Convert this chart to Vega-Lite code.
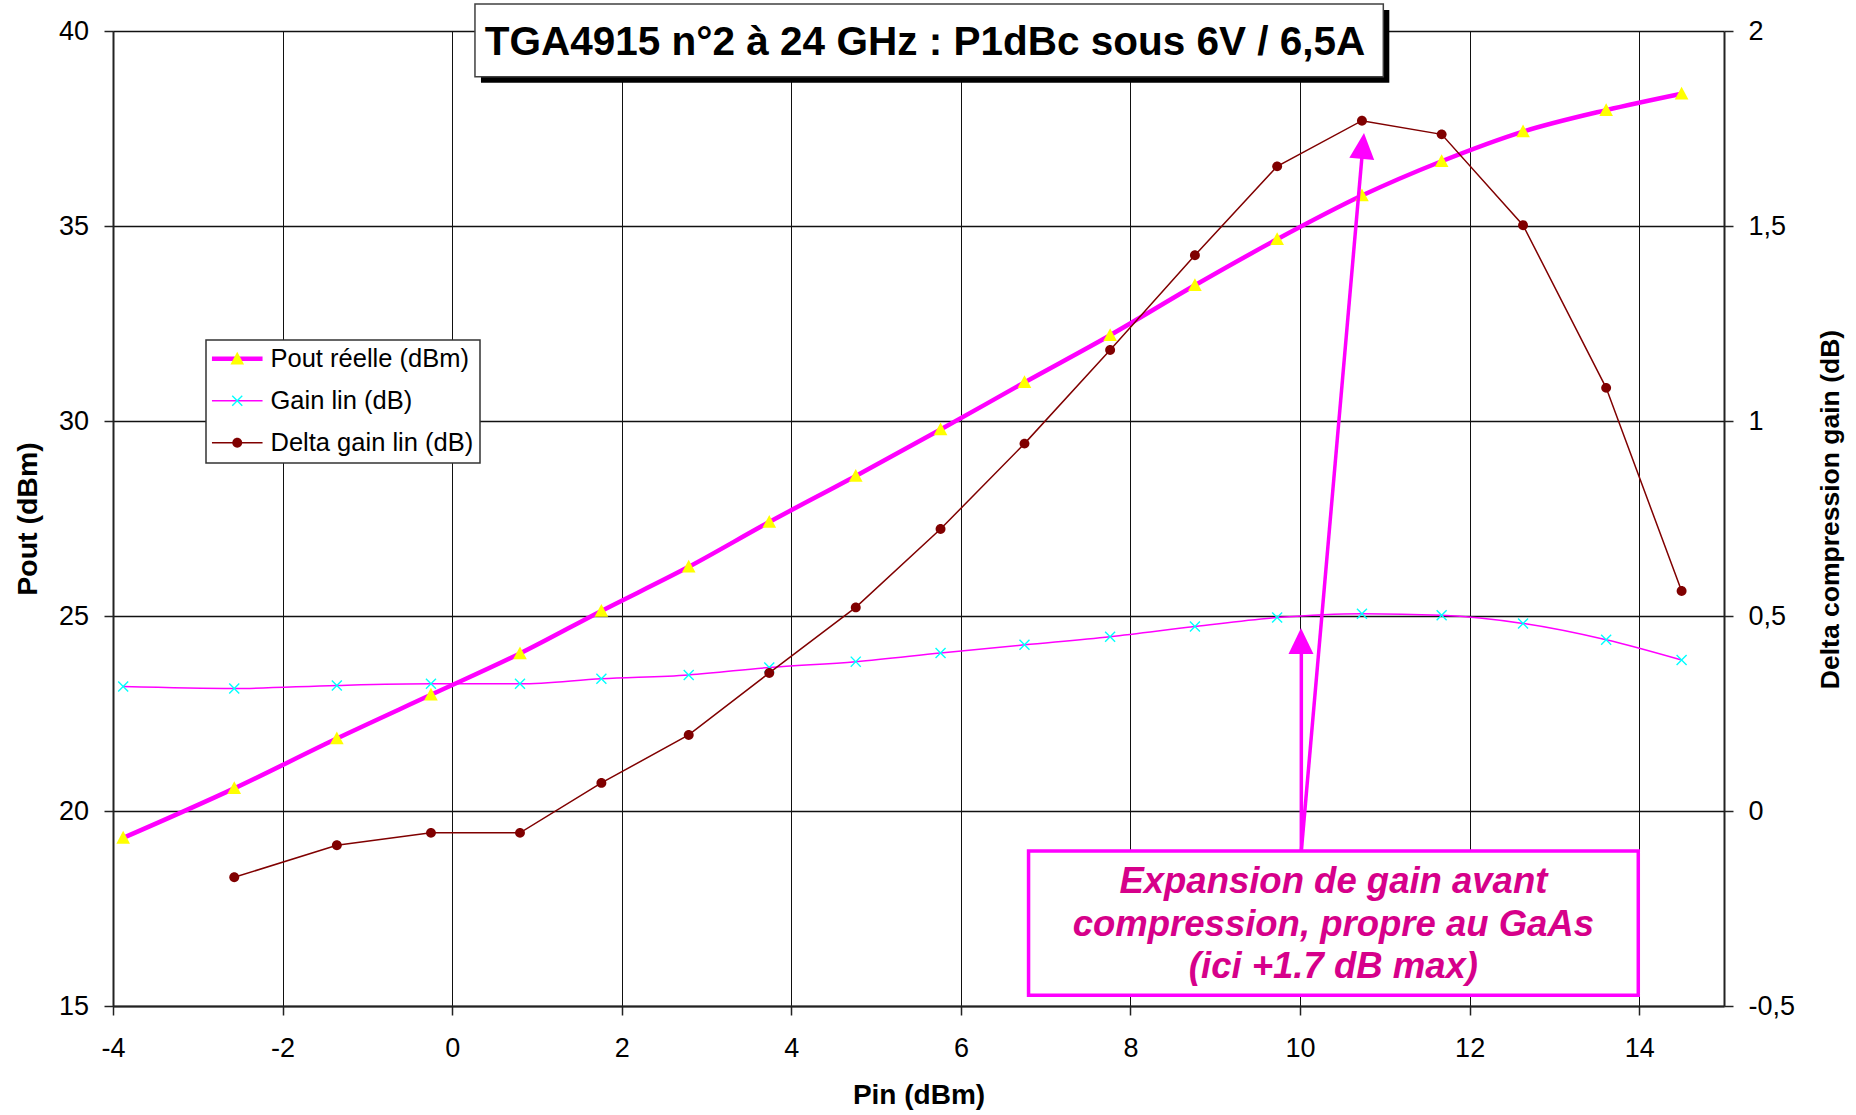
{
  "$schema": "https://vega.github.io/schema/vega-lite/v6.json",
  "width": 1611,
  "height": 975,
  "autosize": {"type": "none"},
  "padding": {"left": 113, "top": 31, "right": 132, "bottom": 109},
  "background": "#ffffff",
  "config": {
    "font": "Liberation Sans",
    "view": {"stroke": null},
    "axis": {
      "labelFontSize": 27,
      "labelColor": "#000000",
      "labelFont": "Liberation Sans",
      "tickSize": 9,
      "tickColor": "#222222",
      "tickWidth": 1.5,
      "domainColor": "#222222",
      "domainWidth": 2,
      "titleFont": "Liberation Sans",
      "titleFontSize": 28,
      "titleFontWeight": "bold",
      "titleColor": "#000000",
      "gridColor": "#111111",
      "gridWidth": 1,
      "labelFlush": false,
      "labelOverlap": false
    }
  },
  "data": {
    "values": [
      {"series": "Pout réelle (dBm)", "pin": -3.88, "val": 19.31},
      {"series": "Pout réelle (dBm)", "pin": -2.57, "val": 20.58},
      {"series": "Pout réelle (dBm)", "pin": -1.36, "val": 21.86},
      {"series": "Pout réelle (dBm)", "pin": -0.25, "val": 22.98},
      {"series": "Pout réelle (dBm)", "pin": 0.80, "val": 24.04},
      {"series": "Pout réelle (dBm)", "pin": 1.76, "val": 25.13},
      {"series": "Pout réelle (dBm)", "pin": 2.79, "val": 26.26},
      {"series": "Pout réelle (dBm)", "pin": 3.74, "val": 27.41},
      {"series": "Pout réelle (dBm)", "pin": 4.76, "val": 28.59},
      {"series": "Pout réelle (dBm)", "pin": 5.76, "val": 29.78},
      {"series": "Pout réelle (dBm)", "pin": 6.75, "val": 30.99},
      {"series": "Pout réelle (dBm)", "pin": 7.76, "val": 32.20},
      {"series": "Pout réelle (dBm)", "pin": 8.76, "val": 33.48},
      {"series": "Pout réelle (dBm)", "pin": 9.73, "val": 34.66},
      {"series": "Pout réelle (dBm)", "pin": 10.73, "val": 35.78},
      {"series": "Pout réelle (dBm)", "pin": 11.67, "val": 36.66},
      {"series": "Pout réelle (dBm)", "pin": 12.63, "val": 37.42},
      {"series": "Pout réelle (dBm)", "pin": 13.61, "val": 37.97},
      {"series": "Pout réelle (dBm)", "pin": 14.50, "val": 38.39},
      {"series": "Gain lin (dB)", "pin": -3.88, "val": 23.19},
      {"series": "Gain lin (dB)", "pin": -2.57, "val": 23.14},
      {"series": "Gain lin (dB)", "pin": -1.36, "val": 23.22},
      {"series": "Gain lin (dB)", "pin": -0.25, "val": 23.26},
      {"series": "Gain lin (dB)", "pin": 0.80, "val": 23.26},
      {"series": "Gain lin (dB)", "pin": 1.76, "val": 23.39},
      {"series": "Gain lin (dB)", "pin": 2.79, "val": 23.49},
      {"series": "Gain lin (dB)", "pin": 3.74, "val": 23.68},
      {"series": "Gain lin (dB)", "pin": 4.76, "val": 23.83},
      {"series": "Gain lin (dB)", "pin": 5.76, "val": 24.05},
      {"series": "Gain lin (dB)", "pin": 6.75, "val": 24.26},
      {"series": "Gain lin (dB)", "pin": 7.76, "val": 24.47},
      {"series": "Gain lin (dB)", "pin": 8.76, "val": 24.73},
      {"series": "Gain lin (dB)", "pin": 9.73, "val": 24.96},
      {"series": "Gain lin (dB)", "pin": 10.73, "val": 25.06},
      {"series": "Gain lin (dB)", "pin": 11.67, "val": 25.02},
      {"series": "Gain lin (dB)", "pin": 12.63, "val": 24.81},
      {"series": "Gain lin (dB)", "pin": 13.61, "val": 24.39},
      {"series": "Gain lin (dB)", "pin": 14.50, "val": 23.87},
      {"series": "Delta gain lin (dB)", "pin": -2.57, "val": -0.170},
      {"series": "Delta gain lin (dB)", "pin": -1.36, "val": -0.088},
      {"series": "Delta gain lin (dB)", "pin": -0.25, "val": -0.056},
      {"series": "Delta gain lin (dB)", "pin": 0.80, "val": -0.056},
      {"series": "Delta gain lin (dB)", "pin": 1.76, "val": 0.072},
      {"series": "Delta gain lin (dB)", "pin": 2.79, "val": 0.195},
      {"series": "Delta gain lin (dB)", "pin": 3.74, "val": 0.354},
      {"series": "Delta gain lin (dB)", "pin": 4.76, "val": 0.522},
      {"series": "Delta gain lin (dB)", "pin": 5.76, "val": 0.723},
      {"series": "Delta gain lin (dB)", "pin": 6.75, "val": 0.942},
      {"series": "Delta gain lin (dB)", "pin": 7.76, "val": 1.182},
      {"series": "Delta gain lin (dB)", "pin": 8.76, "val": 1.425},
      {"series": "Delta gain lin (dB)", "pin": 9.73, "val": 1.653},
      {"series": "Delta gain lin (dB)", "pin": 10.73, "val": 1.770},
      {"series": "Delta gain lin (dB)", "pin": 11.67, "val": 1.735},
      {"series": "Delta gain lin (dB)", "pin": 12.63, "val": 1.502},
      {"series": "Delta gain lin (dB)", "pin": 13.61, "val": 1.085},
      {"series": "Delta gain lin (dB)", "pin": 14.50, "val": 0.564}
    ]
  },
  "layer": [
    {
      "layer": [
        {
          "transform": [{"filter": {"field": "series", "equal": "Gain lin (dB)"}}],
          "mark": {"type": "line", "interpolate": "monotone", "strokeWidth": 1.5},
          "encoding": {
            "x": {
              "field": "pin", "type": "quantitative",
              "scale": {"domain": [-4, 15], "nice": false, "zero": false},
              "axis": {
                "title": "Pin (dBm)",
                "values": [-4, -2, 0, 2, 4, 6, 8, 10, 12, 14],
                "labelExpr": "toString(datum.value)",
                "grid": true,
                "labelPadding": 20,
                "titlePadding": 20
              }
            },
            "y": {
              "field": "val", "type": "quantitative",
              "scale": {"domain": [15, 40], "nice": false, "zero": false},
              "axis": {
                "title": "Pout (dBm)",
                "values": [15, 20, 25, 30, 35, 40],
                "grid": true,
                "gridWidth": 1.5,
                "labelPadding": 15.5,
                "titlePadding": 16,
                "titleFontSize": 28.5
              }
            },
            "color": {
              "field": "series", "type": "nominal",
              "scale": {"domain": ["Pout réelle (dBm)", "Gain lin (dB)", "Delta gain lin (dB)"], "range": ["#FF00FF", "#FF00FF", "#800000"]},
              "legend": {
                "title": null, "orient": "none", "legendX": 93, "legendY": 309, "direction": "vertical",
                "symbolType": "M-2.53,0L2.53,0", "symbolSize": 400, "symbolStrokeWidth": 1.5,
                "symbolOffset": 12.5, "labelOffset": 20.5, "labelFontSize": 25.5, "labelFont": "Liberation Sans",
                "labelLimit": 0,
                "labelColor": "#000000", "padding": 6, "rowPadding": 15,
                "fillColor": "#ffffff", "strokeColor": "#333333", "zindex": 1,
                "encode": {
                  "symbols": {"update": {"strokeWidth": {"signal": "datum.value === 'Pout réelle (dBm)' ? 4.5 : 1.5"}}},
                  "legend": {"update": {"strokeWidth": {"value": 1.5}}}
                }
              }
            }
          }
        },
        {
          "transform": [{"filter": {"field": "series", "equal": "Pout réelle (dBm)"}}],
          "mark": {"type": "line", "interpolate": "monotone", "strokeWidth": 4.5},
          "encoding": {
            "x": {"field": "pin", "type": "quantitative"},
            "y": {"field": "val", "type": "quantitative"},
            "color": {
              "field": "series", "type": "nominal",
              "scale": {"domain": ["Pout réelle (dBm)", "Gain lin (dB)", "Delta gain lin (dB)"], "range": ["#FF00FF", "#FF00FF", "#800000"]}
            }
          }
        },
        {
          "transform": [{"filter": {"field": "series", "oneOf": ["Pout réelle (dBm)", "Gain lin (dB)"]}}],
          "mark": {"type": "point", "filled": true, "size": 484, "opacity": 1},
          "encoding": {
            "x": {"field": "pin", "type": "quantitative"},
            "y": {"field": "val", "type": "quantitative"},
            "fill": {
              "field": "series", "type": "nominal", "sort": "descending",
              "scale": {"range": ["#FFFF00", "#00FFFF", "#800000"]},
              "legend": {
                "title": null, "orient": "none", "legendX": 93, "legendY": 309, "direction": "vertical",
                "symbolSize": 484, "symbolStrokeWidth": 0, "symbolOffset": 12.5, "labelOffset": 20.5,
                "labelFontSize": 25.5, "labelFont": "Liberation Sans", "labelOpacity": 0, "labelLimit": 0,
                "padding": 6, "rowPadding": 15, "zindex": 2
              }
            },
            "shape": {
              "field": "series", "type": "nominal", "sort": "descending",
              "scale": {"range": [
                "M0,-0.64L0.62,0.52L-0.62,0.52Z",
                "M-0.5,-0.41L-0.41,-0.5L0,-0.09L0.41,-0.5L0.5,-0.41L0.09,0L0.5,0.41L0.41,0.5L0,0.09L-0.41,0.5L-0.5,0.41L-0.09,0Z",
                "M-0.45,0A0.45,0.45,0,1,0,0.45,0A0.45,0.45,0,1,0,-0.45,0Z"
              ]},
              "legend": {
                "title": null, "orient": "none", "legendX": 93, "legendY": 309, "direction": "vertical",
                "symbolSize": 484, "symbolStrokeWidth": 0, "symbolOffset": 12.5, "labelOffset": 20.5,
                "labelFontSize": 25.5, "labelFont": "Liberation Sans", "labelOpacity": 0, "labelLimit": 0,
                "padding": 6, "rowPadding": 15, "zindex": 2
              }
            }
          }
        },
        {
          "data": {"values": [{}]},
          "mark": {"type": "rect", "fill": "#000000", "xOffset": 6, "x2Offset": 6, "yOffset": 6, "y2Offset": 6},
          "encoding": {
            "x": {"datum": 0.269, "type": "quantitative"},
            "x2": {"datum": 10.982},
            "y": {"datum": 40.692, "type": "quantitative"},
            "y2": {"datum": 38.828}
          }
        },
        {
          "data": {"values": [{}]},
          "mark": {"type": "rect", "fill": "#ffffff", "stroke": "#404040", "strokeWidth": 1.5},
          "encoding": {
            "x": {"datum": 0.269, "type": "quantitative"},
            "x2": {"datum": 10.982},
            "y": {"datum": 40.692, "type": "quantitative"},
            "y2": {"datum": 38.828}
          }
        },
        {
          "data": {"values": [{}]},
          "mark": {"type": "text", "text": "TGA4915 n°2 à 24 GHz : P1dBc sous 6V / 6,5A", "font": "Liberation Sans", "fontSize": 40.5, "fontWeight": "bold", "align": "center", "baseline": "alphabetic", "color": "#000000"},
          "encoding": {
            "x": {"datum": 5.577, "type": "quantitative"},
            "y": {"datum": 39.385, "type": "quantitative"}
          }
        },
        {
          "data": {"values": [{}]},
          "mark": {"type": "rect", "fill": "#ffffff", "stroke": "#FF00FF", "strokeWidth": 3.5},
          "encoding": {
            "x": {"datum": 6.798, "type": "quantitative"},
            "x2": {"datum": 13.989},
            "y": {"datum": 18.974, "type": "quantitative"},
            "y2": {"datum": 15.274}
          }
        },
        {
          "data": {"values": [{}]},
          "mark": {"type": "text", "text": ["Expansion de gain avant", "compression, propre au GaAs", "(ici +1.7 dB max)"], "font": "Liberation Sans", "fontSize": 36.5, "fontWeight": "bold", "fontStyle": "italic", "align": "center", "baseline": "alphabetic", "lineHeight": 42.5, "color": "#D6008A"},
          "encoding": {
            "x": {"datum": 10.393, "type": "quantitative"},
            "y": {"datum": 17.89, "type": "quantitative"}
          }
        },
        {
          "data": {"values": [{}]},
          "mark": {"type": "rule", "stroke": "#FF00FF", "strokeWidth": 3.5},
          "encoding": {
            "x": {"datum": 10.015, "type": "quantitative"},
            "x2": {"datum": 10.015},
            "y": {"datum": 18.974, "type": "quantitative"},
            "y2": {"datum": 24.36}
          }
        },
        {
          "data": {"values": [{}]},
          "mark": {"type": "rule", "stroke": "#FF00FF", "strokeWidth": 3.5},
          "encoding": {
            "x": {"datum": 10.015, "type": "quantitative"},
            "x2": {"datum": 10.741},
            "y": {"datum": 18.974, "type": "quantitative"},
            "y2": {"datum": 37.05}
          }
        },
        {
          "data": {"values": [{}]},
          "mark": {"type": "point", "shape": "M0,-1L0.96,1L-0.96,1Z", "size": 676, "filled": true, "fill": "#FF00FF", "opacity": 1, "strokeWidth": 0},
          "encoding": {
            "x": {"datum": 10.011, "type": "quantitative"},
            "y": {"datum": 24.359, "type": "quantitative"}
          }
        },
        {
          "data": {"values": [{}]},
          "mark": {"type": "point", "shape": "M0,-1L0.96,1L-0.96,1Z", "size": 676, "filled": true, "fill": "#FF00FF", "opacity": 1, "strokeWidth": 0, "angle": 5},
          "encoding": {
            "x": {"datum": 10.741, "type": "quantitative"},
            "y": {"datum": 37.054, "type": "quantitative"}
          }
        }
      ]
    },
    {
      "layer": [
        {
          "transform": [{"filter": {"field": "series", "equal": "Delta gain lin (dB)"}}],
          "mark": {"type": "line", "strokeWidth": 1.5},
          "encoding": {
            "x": {"field": "pin", "type": "quantitative"},
            "y": {
              "field": "val", "type": "quantitative",
              "scale": {"domain": [-0.5, 2], "nice": false, "zero": false},
              "axis": {
                "orient": "right",
                "title": "Delta compression gain (dB)",
                "values": [-0.5, 0, 0.5, 1, 1.5, 2],
                "labelExpr": "replace(toString(datum.value), '.', ',')",
                "grid": false,
                "labelPadding": 15,
                "titleAngle": 270,
                "titleBaseline": "top",
                "titlePadding": 23,
                "titleFontSize": 26.5,
                "titleY": 478
              }
            },
            "color": {
              "field": "series", "type": "nominal",
              "scale": {"domain": ["Pout réelle (dBm)", "Gain lin (dB)", "Delta gain lin (dB)"], "range": ["#FF00FF", "#FF00FF", "#800000"]}
            }
          }
        },
        {
          "transform": [{"filter": {"field": "series", "equal": "Delta gain lin (dB)"}}],
          "mark": {"type": "point", "filled": true, "size": 484, "opacity": 1},
          "encoding": {
            "x": {"field": "pin", "type": "quantitative"},
            "y": {"field": "val", "type": "quantitative"},
            "fill": {"field": "series", "type": "nominal", "sort": "descending", "scale": {"range": ["#FFFF00", "#00FFFF", "#800000"]}},
            "shape": {
              "field": "series", "type": "nominal", "sort": "descending",
              "scale": {"range": [
                "M0,-0.64L0.62,0.52L-0.62,0.52Z",
                "M-0.5,-0.41L-0.41,-0.5L0,-0.09L0.41,-0.5L0.5,-0.41L0.09,0L0.5,0.41L0.41,0.5L0,0.09L-0.41,0.5L-0.5,0.41L-0.09,0Z",
                "M-0.45,0A0.45,0.45,0,1,0,0.45,0A0.45,0.45,0,1,0,-0.45,0Z"
              ]}
            }
          }
        }
      ]
    }
  ],
  "resolve": {"scale": {"y": "independent"}}
}
